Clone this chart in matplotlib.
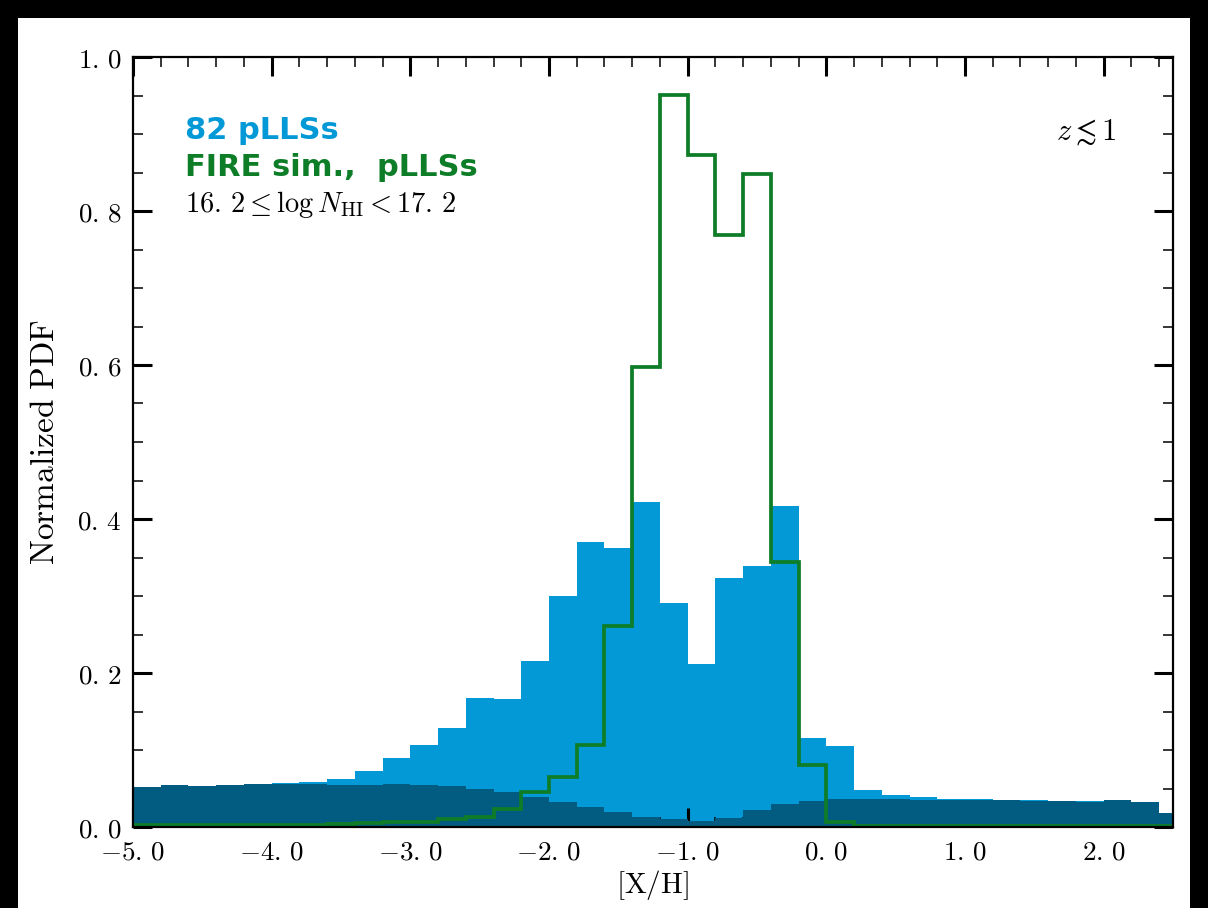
import numpy as np
import matplotlib
matplotlib.use("Agg")
import matplotlib.pyplot as plt
from matplotlib.patches import Rectangle
from matplotlib.ticker import MultipleLocator, FuncFormatter

plt.rcParams['mathtext.fontset'] = 'cm'

# ---- data ----
bin_edges = np.round(np.arange(-5.0, 2.6 + 1e-9, 0.2), 1)

obs_pdf = [0.052, 0.054, 0.053, 0.054, 0.056, 0.057, 0.058, 0.062, 0.073, 0.089,
           0.106, 0.129, 0.167, 0.166, 0.216, 0.300, 0.370, 0.362, 0.422, 0.291,
           0.212, 0.324, 0.339, 0.417, 0.116, 0.105, 0.048, 0.042, 0.0385, 0.037,
           0.036, 0.0355, 0.035, 0.034, 0.0335, 0.0345, 0.032, 0.018]

lim_pdf = [0.052, 0.054, 0.053, 0.054, 0.056, 0.056, 0.056, 0.055, 0.055, 0.056,
           0.055, 0.053, 0.050, 0.045, 0.039, 0.033, 0.026, 0.019, 0.0134, 0.010,
           0.008, 0.012, 0.022, 0.030, 0.034, 0.036, 0.036, 0.036, 0.0355, 0.0355,
           0.035, 0.0345, 0.034, 0.0335, 0.033, 0.0345, 0.032, 0.018]

fire_pdf = [0.002, 0.002, 0.002, 0.002, 0.002, 0.002, 0.002, 0.004, 0.005, 0.006,
            0.007, 0.010, 0.013, 0.023, 0.046, 0.065, 0.107, 0.261, 0.598, 0.951,
            0.873, 0.769, 0.848, 0.344, 0.081, 0.007, 0.001, 0.001, 0.001, 0.001,
            0.001, 0.001, 0.001, 0.001, 0.001, 0.001, 0.001, 0.001]

x_ticks = [-5.0, -4.0, -3.0, -2.0, -1.0, 0.0, 1.0, 2.0]
y_ticks = [0.0, 0.2, 0.4, 0.6, 0.8, 1.0]

BLUE = '#0399d6'
DARK = '#025b80'
GREEN = '#0e7d28'

W, H = 1208, 908
fig = plt.figure(figsize=(W / 100, H / 100), dpi=100)
fig.patch.set_facecolor('black')
fig.patches.append(Rectangle((18 / W, 0), (1190 - 18) / W, 1 - 18 / H,
                             transform=fig.transFigure, facecolor='white',
                             edgecolor='none', zorder=-10))

ax = fig.add_axes([133 / W, 1 - 827 / H, (1173 - 133) / W, (827 - 57) / H])

widths = np.diff(bin_edges)
ax.bar(bin_edges[:-1], obs_pdf, width=widths, align='edge', color=BLUE,
       linewidth=0, zorder=1)
ax.bar(bin_edges[:-1], lim_pdf, width=widths, align='edge', color=DARK,
       linewidth=0, zorder=2)
ax.stairs(fire_pdf, bin_edges, color=GREEN, linewidth=2.7, zorder=3)

ax.set_xlim(-5.0, 2.5)
ax.set_ylim(0.0, 1.0)
ax.set_xticks(x_ticks)
ax.set_yticks(y_ticks)

def fmt(v, pos):
    s = f"{abs(v):.1f}".replace('.', r'.\,')
    return (r"$-" if v < -1e-9 else r"$") + s + "$"

ax.xaxis.set_minor_locator(MultipleLocator(0.2))
ax.yaxis.set_minor_locator(MultipleLocator(0.05))
ax.xaxis.set_major_formatter(FuncFormatter(fmt))
ax.yaxis.set_major_formatter(FuncFormatter(fmt))

ax.tick_params(which='both', direction='in', top=True, right=True, labelsize=19.5)
ax.tick_params(which='major', length=14, width=2.2)
ax.tick_params(which='minor', length=7, width=1.1)
ax.tick_params(axis='x', pad=9)
ax.tick_params(axis='y', pad=8)
for s in ax.spines.values():
    s.set_linewidth(1.6)
    s.set_zorder(5)

ax.set_xlabel(r"$[\mathrm{X/H}]$", fontsize=21, labelpad=2)
ax.set_ylabel(r"$\mathrm{Normalized\ PDF}$", fontsize=24, labelpad=12)

ax.text(0.05, 0.905, "82 pLLSs", transform=ax.transAxes, color=BLUE,
        fontsize=22, fontweight='bold', va='center', ha='left')
ax.text(0.05, 0.856, "FIRE sim.,  pLLSs", transform=ax.transAxes, color=GREEN,
        fontsize=22, fontweight='bold', va='center', ha='left')
ax.text(0.05, 0.808, r"$16.\,2 \leq \log N_{\mathrm{HI}} < 17.\,2$",
        transform=ax.transAxes, color='black', fontsize=20.5, va='center', ha='left')
ax.text(0.946, 0.902, r"$z \lesssim 1$", transform=ax.transAxes, color='black',
        fontsize=22, va='center', ha='right')

fig.savefig("out.png", dpi=100, facecolor=fig.get_facecolor())
